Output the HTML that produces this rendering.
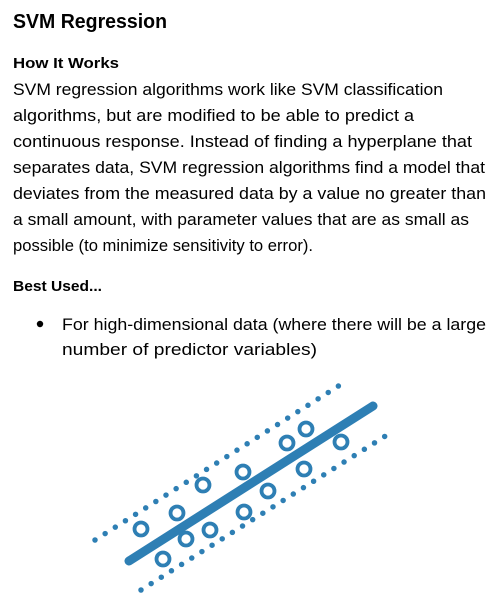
<!DOCTYPE html>
<html><head><meta charset="utf-8"><style>
html,body{margin:0;padding:0;background:#fff;}
svg{display:block;}
text{font-family:"Liberation Sans",sans-serif;fill:#000;}
</style></head><body>
<svg width="499" height="606" viewBox="0 0 499 606" xmlns="http://www.w3.org/2000/svg">
<text x="13" y="28" font-size="20" font-weight="bold" textLength="154" lengthAdjust="spacingAndGlyphs">SVM Regression</text>
<text x="13" y="68" font-size="15" font-weight="bold" textLength="106" lengthAdjust="spacingAndGlyphs">How It Works</text>
<g font-size="17" lengthAdjust="spacingAndGlyphs">
<text x="13" y="95" textLength="430" lengthAdjust="spacingAndGlyphs">SVM regression algorithms work like SVM classification</text>
<text x="13" y="121" textLength="401" lengthAdjust="spacingAndGlyphs">algorithms, but are modified to be able to predict a</text>
<text x="13" y="147" textLength="459" lengthAdjust="spacingAndGlyphs">continuous response.  Instead of finding a hyperplane that</text>
<text x="13" y="173" textLength="472" lengthAdjust="spacingAndGlyphs">separates data, SVM regression algorithms find a model that</text>
<text x="13" y="199" textLength="473" lengthAdjust="spacingAndGlyphs">deviates from the measured data by a value no greater than</text>
<text x="13" y="225" textLength="456" lengthAdjust="spacingAndGlyphs">a small amount, with parameter values that are as small as</text>
<text x="13" y="251" textLength="300" lengthAdjust="spacingAndGlyphs">possible (to minimize sensitivity to error).</text>
</g>
<text x="13" y="291" font-size="15" font-weight="bold" textLength="89" lengthAdjust="spacingAndGlyphs">Best Used...</text>
<circle cx="40" cy="324" r="3.2" fill="#000"/>
<text x="62" y="330" font-size="17" textLength="424" lengthAdjust="spacingAndGlyphs">For high-dimensional data (where there will be a large</text>
<text x="62" y="355" font-size="17" textLength="255" lengthAdjust="spacingAndGlyphs">number of predictor variables)</text>
<g stroke="#2e7fb4" fill="none" stroke-linecap="round">
<line x1="95" y1="540" x2="340" y2="385" stroke-width="5.5" stroke-dasharray="0 12"/>
<line x1="141" y1="590" x2="387" y2="435" stroke-width="5.5" stroke-dasharray="0 12"/>
<line x1="129" y1="561" x2="373" y2="406" stroke-width="9"/>
<g stroke-width="3.8">
<circle cx="141" cy="529" r="6.5"/><circle cx="177" cy="513" r="6.5"/><circle cx="203" cy="485" r="6.5"/>
<circle cx="243" cy="472" r="6.5"/><circle cx="287" cy="443" r="6.5"/><circle cx="306" cy="429" r="6.5"/>
<circle cx="341" cy="442" r="6.5"/><circle cx="304" cy="469" r="6.5"/><circle cx="268" cy="491" r="6.5"/>
<circle cx="244" cy="512" r="6.5"/><circle cx="210" cy="530" r="6.5"/><circle cx="186" cy="539" r="6.5"/>
<circle cx="163" cy="559" r="6.5"/>
</g>
</g>
</svg>
</body></html>
